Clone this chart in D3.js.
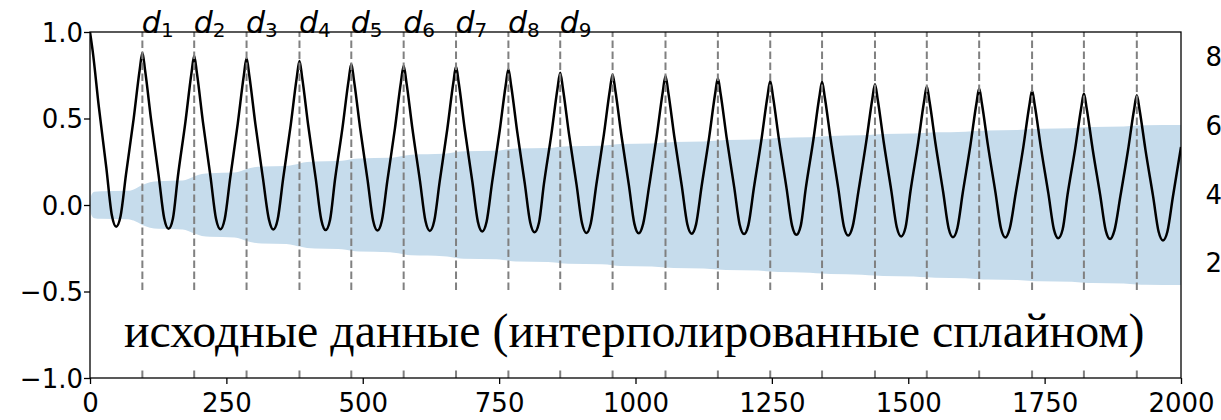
<!DOCTYPE html>
<html><head><meta charset="utf-8">
<script src="https://cdn.jsdelivr.net/npm/d3@7"></script>
<style>html,body{margin:0;padding:0;background:#fff;overflow:hidden}</style>
</head><body>
<svg id="c" width="1221" height="420" xmlns="http://www.w3.org/2000/svg"></svg>
<script>
// ---- data ----
const xTicks = [0, 250, 500, 750, 1000, 1250, 1500, 1750, 2000];
const yTicks = [1.0, 0.5, 0.0, -0.5, -1.0];
const rightTicks = [8, 6, 4, 2];
const peakLags = [96, 191, 287, 384, 479, 575, 671, 767, 862, 958, 1055, 1151, 1247, 1342, 1439, 1534, 1630, 1727, 1822, 1919];
const dLabels = ["1", "2", "3", "4", "5", "6", "7", "8", "9"];
const noteText = "исходные данные (интерполированные сплайном)";
// half-width of the shaded confidence band
const band = [[0,0],[1.5,0.045],[4,0.066],[8,0.076],[20,0.08],[70,0.082],[80,0.09],[96,0.115],[110,0.131],[125,0.137],[170,0.141],[180,0.15],[191,0.165],[205,0.179],[220,0.184],[265,0.188],[277,0.197],[287,0.208],[301,0.218],[315,0.222],[360,0.225],[374,0.232],[384,0.24],[398,0.248],[412,0.251],[455,0.254],[469,0.259],[479,0.264],[493,0.269],[550,0.273],[565,0.279],[575,0.285],[589,0.291],[648,0.296],[661,0.301],[671,0.306],[685,0.311],[745,0.314],[757,0.318],[767,0.322],[781,0.326],[840,0.329],[852,0.333],[862,0.337],[876,0.34],[938,0.343],[958,0.348],[972,0.352],[1030,0.355],[1055,0.361],[1070,0.364],[1125,0.367],[1151,0.373],[1166,0.376],[1225,0.379],[1247,0.385],[1262,0.388],[1320,0.391],[1342,0.396],[1357,0.399],[1415,0.403],[1439,0.408],[1454,0.411],[1510,0.413],[1534,0.418],[1550,0.42],[1605,0.424],[1630,0.429],[1645,0.431],[1700,0.434],[1727,0.439],[1742,0.441],[1800,0.444],[1822,0.449],[1838,0.451],[1895,0.454],[1919,0.459],[1935,0.461],[2000,0.463]];
// the oscillating series (lag, value)
const signal = [
[0,1.0],[5,0.888],[16,0.573],[30,0.213],[40,-0.058],[48,-0.125],[56,-0.065],[66,0.177],[80,0.498],[91,0.78],
[96,0.88],[101,0.778],[112,0.493],[126,0.167],[136,-0.077],[144,-0.138],[152,-0.078],[161,0.162],[175,0.482],[186,0.762],
[191,0.862],[196,0.762],[207,0.481],[221,0.161],[231,-0.08],[239,-0.14],[247,-0.081],[257,0.156],[271,0.473],[282,0.749],
[287,0.848],[292,0.749],[303,0.472],[317,0.155],[328,-0.083],[336,-0.142],[344,-0.084],[354,0.151],[368,0.463],[379,0.736],
[384,0.833],[389,0.735],[400,0.461],[414,0.148],[424,-0.086],[432,-0.145],[440,-0.087],[449,0.143],[463,0.45],[474,0.719],
[479,0.815],[484,0.719],[495,0.449],[509,0.141],[519,-0.09],[527,-0.148],[535,-0.091],[545,0.138],[559,0.443],[570,0.71],
[575,0.805],[580,0.71],[591,0.442],[605,0.137],[615,-0.093],[623,-0.15],[631,-0.093],[641,0.135],[655,0.439],[666,0.705],
[671,0.80],[676,0.705],[687,0.438],[701,0.133],[711,-0.096],[719,-0.153],[727,-0.097],[737,0.128],[751,0.429],[762,0.691],
[767,0.785],[772,0.691],[783,0.427],[797,0.125],[807,-0.101],[815,-0.158],[823,-0.103],[832,0.119],[846,0.414],[857,0.673],
[862,0.765],[867,0.672],[878,0.413],[892,0.116],[902,-0.106],[910,-0.162],[918,-0.107],[928,0.113],[942,0.407],[953,0.663],
[958,0.755],[963,0.663],[974,0.406],[988,0.112],[998,-0.109],[1006,-0.164],[1014,-0.109],[1025,0.109],[1039,0.4],[1050,0.654],
[1055,0.745],[1060,0.654],[1071,0.399],[1085,0.107],[1095,-0.111],[1103,-0.166],[1111,-0.112],[1121,0.104],[1135,0.391],[1146,0.643],
[1151,0.733],[1156,0.643],[1167,0.391],[1181,0.102],[1191,-0.114],[1199,-0.168],[1207,-0.115],[1217,0.098],[1231,0.381],[1242,0.629],
[1247,0.717],[1252,0.628],[1263,0.379],[1277,0.095],[1287,-0.119],[1295,-0.172],[1303,-0.119],[1312,0.093],[1326,0.376],[1337,0.624],
[1342,0.712],[1347,0.623],[1358,0.374],[1372,0.09],[1382,-0.124],[1390,-0.177],[1398,-0.125],[1409,0.086],[1423,0.366],[1434,0.61],
[1439,0.698],[1444,0.61],[1455,0.364],[1469,0.082],[1479,-0.129],[1487,-0.182],[1495,-0.13],[1504,0.078],[1518,0.356],[1529,0.598],
[1534,0.685],[1539,0.598],[1550,0.354],[1564,0.075],[1574,-0.134],[1582,-0.186],[1590,-0.134],[1600,0.072],[1614,0.347],[1625,0.587],
[1630,0.673],[1635,0.587],[1646,0.346],[1660,0.07],[1670,-0.136],[1678,-0.188],[1686,-0.137],[1697,0.068],[1711,0.336],[1722,0.575],
[1727,0.66],[1732,0.575],[1743,0.336],[1757,0.064],[1767,-0.141],[1775,-0.192],[1783,-0.142],[1792,0.059],[1806,0.326],[1817,0.56],
[1822,0.644],[1827,0.56],[1838,0.324],[1852,0.055],[1862,-0.147],[1870,-0.197],[1878,-0.147],[1889,0.053],[1903,0.319],[1914,0.552],
[1919,0.635],[1924,0.551],[1935,0.316],[1949,0.047],[1959,-0.155],[1967,-0.205],[1975,-0.155],[1985,0.045],[2000,0.335]
];

// ---- drawing ----
const svg = d3.select('#c');
const m = {l: 90, r: 1181, t: 32, b: 378};
const x = d3.scaleLinear().domain([0, 2000]).range([m.l, m.r]);
const y = d3.scaleLinear().domain([-1, 1]).range([m.b, m.t]);
const sans = "'DejaVu Sans', sans-serif";

svg.append('defs').append('clipPath').attr('id', 'clip')
  .append('rect').attr('x', m.l).attr('y', m.t).attr('width', m.r - m.l).attr('height', m.b - m.t);

const plot = svg.append('g').attr('clip-path', 'url(#clip)');

plot.append('path').datum(band)
  .attr('d', d3.area().x(d => x(d[0])).y0(d => y(-d[1])).y1(d => y(d[1])).curve(d3.curveMonotoneX))
  .attr('fill', '#c6dcec');

plot.append('path').datum(signal)
  .attr('d', d3.line().x(d => x(d[0])).y(d => y(d[1])).curve(d3.curveMonotoneX))
  .attr('fill', 'none').attr('stroke', '#000').attr('stroke-width', 2.5)
  .attr('stroke-linejoin', 'round');

plot.selectAll('line.peak').data(peakLags).join('line').attr('class', 'peak')
  .attr('x1', d => x(d)).attr('x2', d => x(d))
  .attr('y1', y(-1)).attr('y2', y(1))
  .attr('stroke', '#808080').attr('stroke-width', 2).attr('stroke-dasharray', '7.6,3.4');

// text with white box
svg.append('rect').attr('x', 112).attr('y', 292).attr('width', 1046).attr('height', 77).attr('fill', '#fff');
const note = svg.append('text').attr('x', 124).attr('y', 346.5)
  .attr('font-family', "'Liberation Serif','Times New Roman',serif")
  .attr('font-size', 100).attr('fill', '#000').text(noteText);
const w100 = note.node().getComputedTextLength();
note.attr('font-size', 100 * 1021 / w100);

// frame
svg.append('rect').attr('x', m.l).attr('y', m.t).attr('width', m.r - m.l).attr('height', m.b - m.t)
  .attr('fill', 'none').attr('stroke', '#000').attr('stroke-width', 1.3);

// axes
const gx = svg.append('g').attr('transform', `translate(0,${m.b})`)
  .call(d3.axisBottom(x).tickValues(xTicks).tickSize(6).tickPadding(10).tickFormat(d3.format('d')));
gx.select('.domain').remove();
gx.selectAll('text').attr('font-size', 26).attr('font-family', sans).attr('fill', '#000');
gx.selectAll('line').attr('stroke', '#000').attr('stroke-width', 1.3);

const gy = svg.append('g').attr('transform', `translate(${m.l},0)`)
  .call(d3.axisLeft(y).tickValues(yTicks).tickSize(6).tickPadding(1).tickFormat(d3.format('.1f')));
gy.select('.domain').remove();
gy.selectAll('text').attr('font-size', 26).attr('font-family', sans).attr('fill', '#000').attr('dy', '0.36em');
gy.selectAll('line').attr('stroke', '#000').attr('stroke-width', 1.3);

// d labels
const lt = svg.append('g').selectAll('text').data(dLabels).join('text')
  .attr('x', (d, i) => x(peakLags[i]) - 0.5).attr('y', 33)
  .attr('font-family', sans).attr('font-size', 30).attr('fill', '#000');
lt.append('tspan').attr('font-style', 'italic').text('d');
lt.append('tspan').attr('font-size', 20).attr('dy', 3.5).text(d => d);

// right-hand tick labels (partially visible neighbouring axis)
const yr = d3.scaleLinear().domain([2, 8]).range([263, 57]);
svg.append('g').selectAll('text').data(rightTicks).join('text')
  .attr('x', 1205.5).attr('y', d => yr(d)).attr('dy', '0.36em')
  .attr('font-family', sans).attr('font-size', 26).attr('fill', '#000')
  .text(d => d);
</script>
</body></html>
